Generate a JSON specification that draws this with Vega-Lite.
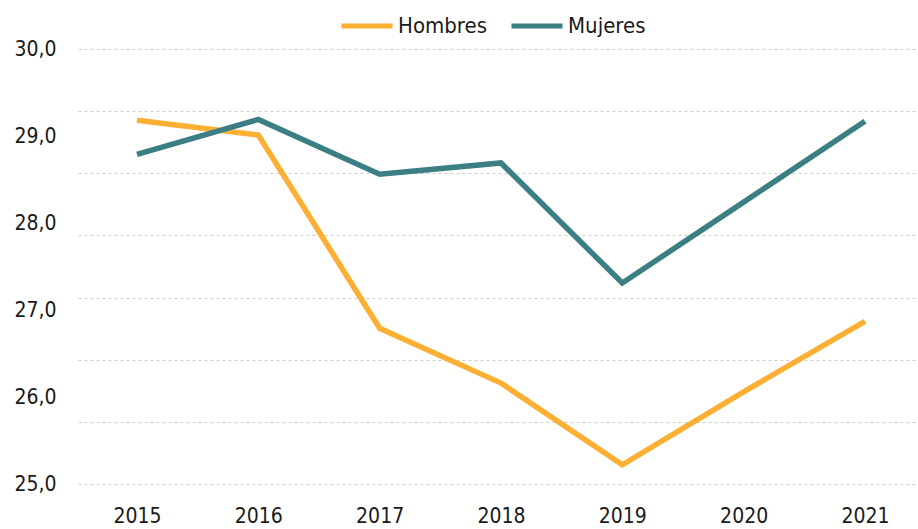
{
  "$schema": "https://vega.github.io/schema/vega-lite/v6.json",
  "width": 840,
  "height": 435,
  "autosize": "none",
  "padding": {"left": 78, "top": 49, "right": 0, "bottom": 45},
  "background": "white",
  "config": {
    "view": {"stroke": null},
    "font": "DejaVu Sans Condensed, Roboto, sans-serif"
  },
  "data": {
    "values": [
      {"year": 2015, "serie": "Hombres", "value": 29.18},
      {"year": 2016, "serie": "Hombres", "value": 29.01},
      {"year": 2017, "serie": "Hombres", "value": 26.79},
      {"year": 2018, "serie": "Hombres", "value": 26.16},
      {"year": 2019, "serie": "Hombres", "value": 25.22},
      {"year": 2020, "serie": "Hombres", "value": 26.06},
      {"year": 2021, "serie": "Hombres", "value": 26.87},
      {"year": 2015, "serie": "Mujeres", "value": 28.79},
      {"year": 2016, "serie": "Mujeres", "value": 29.19},
      {"year": 2017, "serie": "Mujeres", "value": 28.56},
      {"year": 2018, "serie": "Mujeres", "value": 28.69},
      {"year": 2019, "serie": "Mujeres", "value": 27.31},
      {"year": 2020, "serie": "Mujeres", "value": 28.24},
      {"year": 2021, "serie": "Mujeres", "value": 29.17}
    ]
  },
  "mark": {"type": "line", "strokeWidth": 5.5, "strokeJoin": "miter", "strokeCap": "butt"},
  "encoding": {
    "x": {
      "field": "year",
      "type": "quantitative",
      "scale": {"domain": [2014.514, 2021.437], "nice": false, "zero": false},
      "axis": {
        "title": null,
        "values": [2015, 2016, 2017, 2018, 2019, 2020, 2021],
        "format": "d",
        "grid": false,
        "domain": false,
        "ticks": false,
        "labelFont": "DejaVu Sans Condensed, Roboto, sans-serif",
        "labelFontSize": 21,
        "labelColor": "#1a1a1a",
        "labelPadding": 21,
        "labelFlush": false
      }
    },
    "y": {
      "field": "value",
      "type": "quantitative",
      "scale": {"domain": [25, 30], "nice": false, "zero": false},
      "axis": {
        "title": null,
        "values": [25, 25.714, 26, 26.429, 27, 27.143, 27.857, 28, 28.571, 29, 29.286, 30],
        "labelExpr": "abs(datum.value - round(datum.value)) < 0.01 ? replace(format(datum.value, '.1f'), '.', ',') : ''",
        "grid": true,
        "gridDash": [3, 3],
        "gridColor": "#cccccc",
        "gridWidth": 1,
        "gridOpacity": {"condition": {"test": "datum.value == 26 || datum.value == 27 || datum.value == 28 || datum.value == 29", "value": 0}, "value": 1},
        "domain": false,
        "ticks": false,
        "labelFont": "DejaVu Sans Condensed, Roboto, sans-serif",
        "labelFontSize": 21,
        "labelColor": "#1a1a1a",
        "labelPadding": 22,
        "labelFlush": false
      }
    },
    "color": {
      "field": "serie",
      "type": "nominal",
      "scale": {"domain": ["Hombres", "Mujeres"], "range": ["#FBB034", "#3B7F85"]},
      "legend": {
        "title": null,
        "orient": "none",
        "direction": "horizontal",
        "legendX": 261,
        "legendY": -51,
        "symbolType": "stroke",
        "symbolSize": 2601,
        "symbolStrokeWidth": 5,
        "labelFont": "DejaVu Sans Condensed, Roboto, sans-serif",
        "labelFontSize": 22,
        "labelColor": "#1a1a1a",
        "labelOffset": 3,
        "columnPadding": 14
      }
    }
  }
}
